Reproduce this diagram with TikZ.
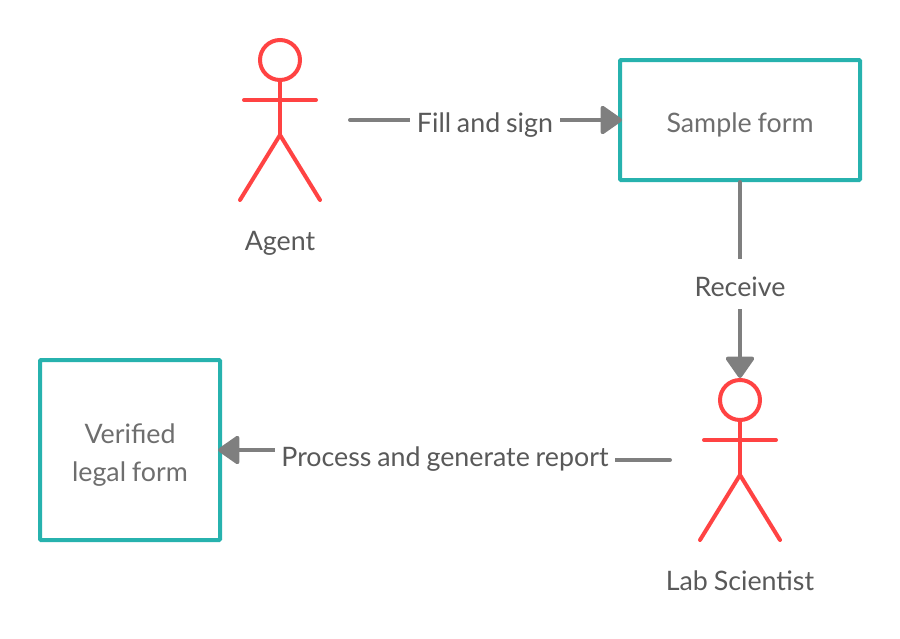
\documentclass[tikz,border=0pt]{standalone}
\usepackage{fontspec}
\setmainfont[WordSpace=0.85]{Lato}
\usetikzlibrary{arrows.meta}
\definecolor{actorred}{HTML}{FF4343}
\definecolor{boxteal}{HTML}{27B2AE}
\definecolor{linegray}{HTML}{7F7F7F}
\definecolor{labelgray}{HTML}{595959}
\definecolor{formgray}{HTML}{6E6E6E}
\tikzset{
formbox/.style={
  rectangle,
  draw=boxteal,
  line width=4pt,
  rounded corners=1pt,
  text=formgray,
  align=center,
  inner sep=0pt,
  text height=31pt,
  text depth=6pt,
  font=\fontsize{26.8}{38}\selectfont
  },
actorline/.style={draw=actorred,line width=4pt,line cap=round},
actorhead/.style={circle,draw=actorred,line width=4pt,minimum size=40pt,inner sep=0pt},
actorname/.style={anchor=base,text=labelgray,inner sep=0pt,font=\fontsize{26.8}{32}\selectfont},
edgeline/.style={draw=linegray,line width=4pt,line cap=round,
  -{Triangle[length=23pt,width=31pt,round]}},
edgelabel/.style={anchor=base,fill=white,text=labelgray,inner xsep=6.5pt,inner ysep=0pt,
  text height=20pt,text depth=7pt,font=\fontsize{26.8}{32}\selectfont}
}
\begin{document}
\begin{tikzpicture}[x=1pt,y=-1pt]
    \useasboundingbox (0,0) rectangle (900,638);
    % forms
    \node [formbox,minimum width=240pt,minimum height=120pt] (sample) at (740,120) {Sample form};
    \node [formbox,text height=69pt,minimum width=180pt,minimum height=180pt] (verified) at (130,450) {Verified\\legal form};
    % actors
    \foreach \actor/\cx/\cy/\name in {agent/280/60/Agent, scientist/740/400/Lab Scientist}
    {
        \node [actorhead] (\actor) at (\cx,\cy) {};
        \coordinate (\actor-neck) at (\cx,\cy+20);
        \coordinate (\actor-hip) at (\cx,\cy+75);
        \draw [actorline] (\actor-neck) -- (\actor-hip);
        \draw [actorline] (\cx-36,\cy+40) -- (\cx+36,\cy+40);
        \draw [actorline] (\cx-40,\cy+140) -- (\actor-hip) -- (\cx+40,\cy+140);
        \node [actorname] (\actor-name) at (\cx,\cy+190.5) {\name};
    }
    % connectors
    \coordinate (agent-out) at (350,120);
    \coordinate (scientist-out) at (670,460);
    \coordinate (process-bend) at (445,460);
    \draw [edgeline,shorten >=-4pt] (agent-out) -- (sample.west);
    \draw [edgeline] (sample.south) -- (scientist.north);
    \draw [edgeline,shorten >=-4pt] (scientist-out) -- (process-bend) |- (verified.east);
    \node [edgelabel] (fill) at (485,132) {Fill and sign};
    \node [edgelabel,text height=37pt,text depth=13pt] (receive) at (740,296) {Receive};
    \node [edgelabel] (process) at (445,466) {Process and generate report};
\end{tikzpicture}
\end{document}
